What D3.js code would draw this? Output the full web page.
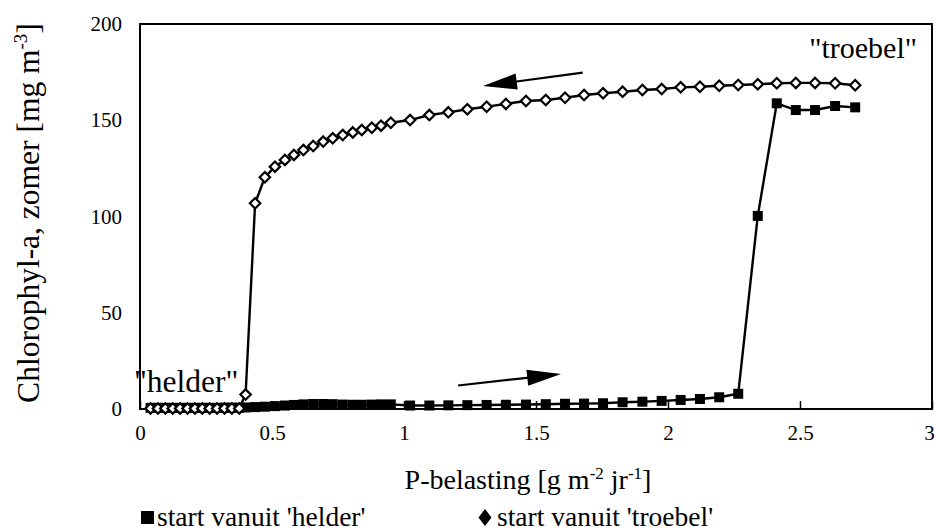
<!DOCTYPE html>
<html>
<head>
<meta charset="utf-8">
<script src="https://cdn.jsdelivr.net/npm/d3@7"></script>
<style>
html,body{margin:0;padding:0;background:#fff;}
svg{display:block;}
</style>
</head>
<body>
<svg id="chart" width="934" height="532"></svg>
<script>
// ---- data ----
const pLoad = [0.04,0.068,0.096,0.124,0.152,0.18,0.208,0.236,0.264,0.292,0.32,0.348,0.376,0.40,
  0.436,0.473,0.511,0.549,0.583,0.619,0.656,0.694,0.730,0.768,0.806,0.840,0.878,0.913,0.950,
  1.023,1.096,1.168,1.240,1.313,1.386,
  1.462,1.537,1.610,1.682,1.754,1.828,1.903,1.976,2.048,2.121,2.194,2.266,2.340,2.412,2.484,2.557,2.633,2.709];
const chlHelder = [0.6,0.6,0.6,0.6,0.6,0.6,0.6,0.6,0.6,0.6,0.7,0.7,0.7,0.8,
  1.0,1.2,1.5,1.8,2.1,2.4,2.6,2.6,2.5,2.3,2.2,2.2,2.3,2.4,2.4,
  1.8,1.8,1.9,2.0,2.1,2.2,
  2.3,2.5,2.7,2.8,3.0,3.5,3.8,4.2,4.7,5.2,6.1,7.9,100.3,158.8,155.3,155.3,157.4,156.7];
const chlTroebel = [0.3,0.3,0.3,0.3,0.3,0.3,0.3,0.3,0.3,0.3,0.3,0.3,0.3,7.5,
  106.9,120.4,125.9,129.4,132.0,134.5,136.6,138.9,140.6,142.3,143.7,144.9,146.1,147.2,148.7,
  150.1,152.7,154.1,155.7,157.0,158.5,
  160.0,160.5,161.7,163.1,164.0,164.8,165.7,166.2,167.1,167.4,167.9,168.3,168.7,169.2,169.4,169.4,169.2,168.2];
const xTicks = [0,0.5,1,1.5,2,2.5,3];
const xTickLabels = ["0","0.5","1","1.5","2","2.5","3"];
const yTicks = [0,50,100,150,200];
const yTickLabels = ["0","50","100","150","200"];
const legendLabels = ["start vanuit 'helder'","start vanuit 'troebel'"];
const annotLabels = ["\"troebel\"","\"helder\""];
// arrows in data units: [x0,y0,x1(tip),y1(tip)]
const arrowUp = [1.677,174.7,1.299,167.8];
const arrowLow = [1.205,12.2,1.595,18.2];

// ---- layout ----
const FONT = "'Liberation Serif', 'Times New Roman', serif";
const svg = d3.select("#chart");
const L = 140, R = 932, T = 24, B = 409;
const x = d3.scaleLinear().domain([0,3]).range([L,R]);
const y = d3.scaleLinear().domain([0,200]).range([B,T]);

svg.append("rect").attr("x",L).attr("y",T).attr("width",R-L).attr("height",B-T)
  .attr("fill","none").attr("stroke","#000").attr("stroke-width",2);

const xAxis = d3.axisBottom(x).tickValues(xTicks).tickSizeInner(-8).tickSizeOuter(0)
  .tickFormat((d,i)=>xTickLabels[i]).tickPadding(16);
const gx = svg.append("g").attr("transform",`translate(0,${B})`).call(xAxis);
gx.select(".domain").remove();
gx.selectAll(".tick line").attr("stroke","#000").attr("stroke-width",1.5);
gx.selectAll(".tick text").style("font-family",FONT).style("font-size","21px").attr("fill","#000")
  .attr("dx",(d,i)=>i===xTicks.length-1?-3:0);

const yAxis = d3.axisLeft(y).tickValues(yTicks).tickSizeInner(0).tickSizeOuter(0)
  .tickFormat((d,i)=>yTickLabels[i]).tickPadding(18);
const gy = svg.append("g").attr("transform",`translate(${L},0)`).call(yAxis);
gy.select(".domain").remove();
gy.selectAll(".tick text").style("font-family",FONT).style("font-size","21px").attr("fill","#000");

const xt = svg.append("text").attr("x",528).attr("y",489).attr("text-anchor","middle")
  .style("font-size","28px").style("font-family",FONT);
xt.append("tspan").text("P-belasting [g m");
xt.append("tspan").attr("dy",-10).style("font-size","17px").text("-2");
xt.append("tspan").attr("dy",10).text(" jr");
xt.append("tspan").attr("dy",-10).style("font-size","17px").text("-1");
xt.append("tspan").attr("dy",10).text("]");

const yt = svg.append("text").attr("transform","translate(39,213) rotate(-90)")
  .attr("text-anchor","middle").style("font-size","31.5px").style("font-family",FONT);
yt.append("tspan").text("Chlorophyl-a, zomer [mg m");
yt.append("tspan").attr("dy",-12).style("font-size","19px").text("-3");
yt.append("tspan").attr("dy",12).text("]");

const line = d3.line().x(d=>x(d[0])).y(d=>y(d[1]));
const helder = pLoad.map((p,i)=>[p,chlHelder[i]]);
const troebel = pLoad.map((p,i)=>[p,chlTroebel[i]]);
svg.append("path").datum(helder).attr("d",line).attr("fill","none").attr("stroke","#000").attr("stroke-width",2.4);
svg.append("path").datum(troebel).attr("d",line).attr("fill","none").attr("stroke","#000").attr("stroke-width",2.4);

const sq = 10;
svg.append("g").selectAll("rect").data(helder).join("rect")
  .attr("x",d=>x(d[0])-sq/2).attr("y",d=>y(d[1])-sq/2).attr("width",sq).attr("height",sq).attr("fill","#000");
const dm = 5.2;
svg.append("g").selectAll("path").data(troebel).join("path")
  .attr("d",d=>{const cx=x(d[0]),cy=y(d[1]);return `M${cx},${cy-dm}L${cx+dm},${cy}L${cx},${cy+dm}L${cx-dm},${cy}Z`;})
  .attr("fill","#fff").attr("stroke","#000").attr("stroke-width",2.2);

function arrow(a){
  const x0=x(a[0]),y0=y(a[1]),x1=x(a[2]),y1=y(a[3]);
  const dx=x1-x0, dy=y1-y0, len=Math.hypot(dx,dy), ux=dx/len, uy=dy/len;
  const hl=34, hw=8;
  const bx=x1-ux*hl, by=y1-uy*hl;
  svg.append("line").attr("x1",x0).attr("y1",y0).attr("x2",bx+ux*2).attr("y2",by+uy*2)
    .attr("stroke","#000").attr("stroke-width",2.2);
  svg.append("path").attr("d",`M${x1},${y1}L${bx-uy*hw},${by+ux*hw}L${bx+uy*hw},${by-ux*hw}Z`).attr("fill","#000");
}
arrow(arrowUp); arrow(arrowLow);

svg.append("text").attr("x",917).attr("y",58).attr("text-anchor","end").style("font-size","30px")
  .style("font-family",FONT).text(annotLabels[0]);
svg.append("text").attr("x",134).attr("y",392).attr("text-anchor","start").style("font-size","31.5px")
  .style("font-family",FONT).text(annotLabels[1]);

svg.append("rect").attr("x",141).attr("y",511).attr("width",13).attr("height",13).attr("fill","#000");
svg.append("text").attr("x",157).attr("y",526).style("font-size","27.5px").style("font-family",FONT).text(legendLabels[0]);
svg.append("path").attr("d","M485,509L491.5,517.5L485,526L478.5,517.5Z").attr("fill","#000");
svg.append("text").attr("x",497).attr("y",526).style("font-size","27.5px").style("font-family",FONT).text(legendLabels[1]);
</script>
</body>
</html>
